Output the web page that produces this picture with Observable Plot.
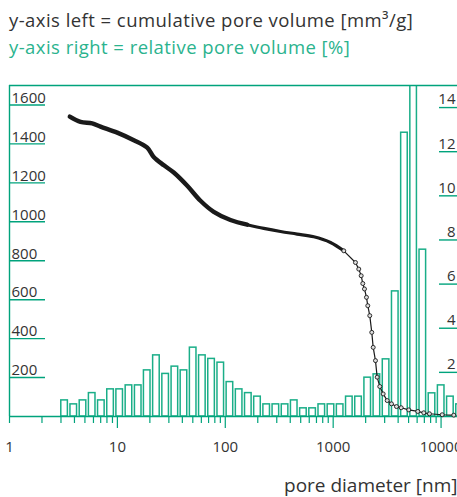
<!DOCTYPE html>
<html><head><meta charset="utf-8">
<script src="https://cdn.jsdelivr.net/npm/d3@7"></script>
<script src="https://cdn.jsdelivr.net/npm/@observablehq/plot@0.6"></script>
<style>
body{margin:0;background:#fff;font-family:"Open Sans",sans-serif;overflow:hidden}
#hdr{height:70px;padding-left:9px;box-sizing:border-box;padding-top:7px}
.l1{font-size:18.5px;color:#333;line-height:26.5px;white-space:nowrap;letter-spacing:0.45px}
.l2{font-size:18.5px;color:#2bb38e;line-height:26.5px;white-space:nowrap;letter-spacing:0.45px}
</style></head><body>
<div id="hdr"><div class="l1">y-axis left = cumulative pore volume [mm³/g]</div><div class="l2">y-axis right = relative pore volume [%]</div></div>
<div id="chart"></div>
<script>
// Histogram bins (pore diameter, nm, bin centres on log scale) and relative pore volume (%)
const binCenters = [3.24,3.94,4.80,5.84,7.10,8.64,10.5,12.8,15.6,18.9,23.0,28.0,34.1,41.4,50.4,61.3,74.6,90.8,110.4,134.4,163.5,198.8,241.9,294.3,358.1,435.5,529.9,644.6,784.3,954.0,1160.6,1411.9,1717.6,2089.6,2542.1,3092.4,3762.5,4577.0,5568,6774,8241,10025,12199,14839];
const relVolume = [0.73,0.55,0.73,1.06,0.73,1.23,1.23,1.41,1.41,2.09,2.77,1.93,2.26,2.09,3.12,2.77,2.61,2.44,1.56,1.23,1.06,0.90,0.55,0.55,0.55,0.73,0.37,0.37,0.55,0.55,0.55,0.90,0.90,1.76,1.91,2.59,5.67,12.86,15.6,7.56,1.05,1.41,0.90,0.55];
// Cumulative pore volume curve (mm³/g) vs pore diameter (nm)
const curveDiameter = [3.62,4.55,5.84,6.97,9.96,14.2,18.9,21.7,27.0,33.3,44.4,58.9,78.2,111.7,159.6,227.5,325,463,661,944,1254,1609,1727,1818,1881,1950,2035,2093,2184,2279,2349,2466,2557,2704,2906,3167,3470,3862,4268,5019,6083,6914,7807,10240,13120];
const curveVolume   = [1540,1513,1506,1489,1458,1419,1381,1333,1290,1253,1185,1108,1051,1009,985,966,950,937,923,894,851,791,757,723,683,655,612,569,518,432,355,287,202,154,116,82,65,51,45,34,26,19,14,9,7];
// Axis ticks
const leftTicks = [200,400,600,800,1000,1200,1400,1600];
const rightTicks = [2,4,6,8,10,12,14];
const xMajor = [10,100,1000,10000];
const xMinor = [2,3,4,5,6,7,8,9,20,30,40,50,60,70,80,90,200,300,400,500,600,700,800,900,2000,3000,4000,5000,6000,7000,8000,9000];

const green = "#00a37c";
const barGreen = "#1aae88";
const yMax = 1700, rMax = 15, k = yMax / rMax;
const halfBin = 1.103;

const bars = binCenters.map((c, i) => ({c, v: relVolume[i]}));
const curve = curveDiameter.map((d, i) => ({d, v: curveVolume[i]}));

const chart = Plot.plot({
  width: 457,
  height: 427,
  marginTop: 15,
  marginBottom: 81,
  marginLeft: 9,
  marginRight: 0,
  style: {fontFamily: "Open Sans, sans-serif", fontSize: "15px", color: "#333", overflow: "visible"},
  x: {type: "log", domain: [1, 14200]},
  y: {domain: [0, yMax]},
  marks: [
    Plot.rectY(bars, {x1: d => d.c / halfBin, x2: d => d.c * halfBin, y1: 0, y2: d => d.v * k,
      insetLeft: 1.3, insetRight: 1.3, fill: "white", stroke: barGreen, strokeWidth: 1.5, clip: true}),
    Plot.ruleY([0], {stroke: green, strokeWidth: 1.4}),
    Plot.ruleY([yMax], {stroke: green, strokeWidth: 1.4}),
    Plot.ruleX([1], {stroke: green, strokeWidth: 1.4}),
    // left axis (inside): tick lines + labels above them
    Plot.axisY(leftTicks, {anchor: "left", tickSize: -36, text: null, stroke: green, strokeWidth: 1.4, label: null}),
    Plot.axisY(leftTicks, {anchor: "left", tickSize: 0, tickPadding: -2, textAnchor: "start", dy: -7,
      fill: "#333", tickFormat: d => String(d), label: null}),
    // right axis (inside), relative volume
    Plot.axisY(rightTicks.map(t => t * k), {anchor: "right", tickSize: -19, text: null, stroke: green, strokeWidth: 1.4, label: null}),
    Plot.axisY(rightTicks.map(t => t * k), {anchor: "right", tickSize: 0, tickPadding: -2, textAnchor: "end", dy: -8,
      fill: "#333", tickFormat: d => String(Math.round(d / k)), label: null}),
    // x axis
    Plot.axisX(xMajor, {tickSize: 12, tickPadding: 13, stroke: green, fill: "#333", strokeWidth: 1.2,
      tickFormat: d => String(d), label: null}),
    Plot.axisX([1], {tickSize: 7, tickPadding: 18, stroke: green, fill: "#333", strokeWidth: 1.2,
      tickFormat: d => String(d), label: null}),
    Plot.axisX(xMinor, {tickSize: 7, stroke: green, strokeWidth: 1.2, text: null, label: null}),
    // cumulative curve
    Plot.line(curve, {x: "d", y: "v", stroke: "#1a1a1a", strokeWidth: 1.2, clip: true}),
    Plot.line(curve.filter(p => p.d <= 200), {x: "d", y: "v", stroke: "#1a1a1a", strokeWidth: 4.4, curve: "catmull-rom"}),
    Plot.line(curve.filter(p => p.d >= 150 && p.d <= 1300), {x: "d", y: "v", stroke: "#1a1a1a", strokeWidth: 3.2, curve: "catmull-rom"}),
    Plot.dot(curve.filter(p => p.d >= 1250), {x: "d", y: "v", r: 2, stroke: "#1a1a1a", fill: "#ddd", strokeWidth: 0.9}),
    Plot.text(["pore diameter [nm]"], {frameAnchor: "bottom-right", dx: 0, dy: 75, fontSize: 19, fill: "#333", textAnchor: "end"})
  ]
});
document.getElementById("chart").append(chart);
</script>
</body></html>
